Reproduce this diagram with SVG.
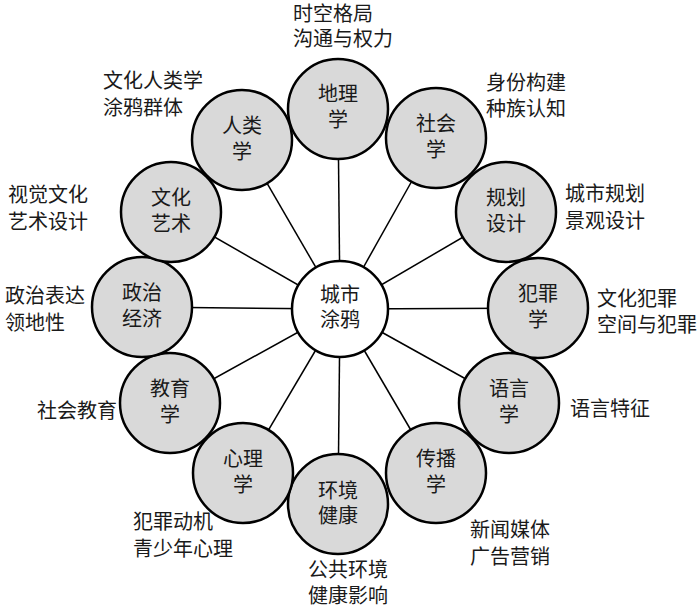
<svg xmlns="http://www.w3.org/2000/svg" width="700" height="610" viewBox="0 0 700 610">
<style>
text{font-family:"Noto Sans CJK SC","Noto Sans",sans-serif;font-size:20px;fill:#1a1a1a}
.n{text-anchor:middle}
circle.o{fill:#d9d9d9;stroke:#000;stroke-width:2.5}
circle.c{fill:#fff;stroke:#000;stroke-width:2.5}
#connectors line{stroke:#000;stroke-width:1.5}
</style>
<rect width="700" height="610" fill="#fff"/>
<g id="connectors">
<line x1="340" y1="309" x2="338" y2="109"/>
<line x1="340" y1="309" x2="436" y2="138"/>
<line x1="340" y1="309" x2="506" y2="212"/>
<line x1="340" y1="309" x2="538" y2="308"/>
<line x1="340" y1="309" x2="509" y2="403"/>
<line x1="340" y1="309" x2="436" y2="473"/>
<line x1="340" y1="309" x2="338" y2="504"/>
<line x1="340" y1="309" x2="243" y2="473"/>
<line x1="340" y1="309" x2="170" y2="403"/>
<line x1="340" y1="309" x2="142" y2="307"/>
<line x1="340" y1="309" x2="171" y2="212"/>
<line x1="340" y1="309" x2="242" y2="140"/>
</g>
<g id="center"><circle class="c" cx="340" cy="309" r="48"/><text class="n" x="340" y="302">城市</text><text class="n" x="340" y="327">涂鸦</text></g>
<g id="geo"><circle class="o" cx="338" cy="109" r="50"/><text class="n" x="338" y="101">地理</text><text class="n" x="338" y="127">学</text><text x="293" y="21">时空格局</text><text x="293" y="46">沟通与权力</text></g>
<g id="soc"><circle class="o" cx="436" cy="138" r="50"/><text class="n" x="436" y="131">社会</text><text class="n" x="436" y="157">学</text><text x="486" y="90">身份构建</text><text x="486" y="116">种族认知</text></g>
<g id="plan"><circle class="o" cx="506" cy="212" r="50"/><text class="n" x="506" y="205">规划</text><text class="n" x="506" y="231">设计</text><text x="565" y="201">城市规划</text><text x="565" y="228">景观设计</text></g>
<g id="crime"><circle class="o" cx="538" cy="308" r="50"/><text class="n" x="538" y="301">犯罪</text><text class="n" x="538" y="327">学</text><text x="597" y="306">文化犯罪</text><text x="597" y="332">空间与犯罪</text></g>
<g id="lang"><circle class="o" cx="509" cy="403" r="50"/><text class="n" x="509" y="396">语言</text><text class="n" x="509" y="422">学</text><text x="570" y="416">语言特征</text></g>
<g id="comm"><circle class="o" cx="436" cy="473" r="50"/><text class="n" x="436" y="466">传播</text><text class="n" x="436" y="492">学</text><text x="470" y="537">新闻媒体</text><text x="470" y="564">广告营销</text></g>
<g id="env"><circle class="o" cx="338" cy="504" r="50"/><text class="n" x="338" y="498">环境</text><text class="n" x="338" y="523">健康</text><text x="308" y="577">公共环境</text><text x="308" y="603">健康影响</text></g>
<g id="psy"><circle class="o" cx="243" cy="473" r="50"/><text class="n" x="243" y="466">心理</text><text class="n" x="243" y="492">学</text><text x="133" y="529">犯罪动机</text><text x="133" y="556">青少年心理</text></g>
<g id="edu"><circle class="o" cx="170" cy="403" r="50"/><text class="n" x="170" y="396">教育</text><text class="n" x="170" y="422">学</text><text x="37" y="418">社会教育</text></g>
<g id="pol"><circle class="o" cx="142" cy="307" r="50"/><text class="n" x="142" y="300">政治</text><text class="n" x="142" y="326">经济</text><text x="5" y="303">政治表达</text><text x="5" y="330">领地性</text></g>
<g id="art"><circle class="o" cx="171" cy="212" r="50"/><text class="n" x="171" y="205">文化</text><text class="n" x="171" y="231">艺术</text><text x="8" y="202">视觉文化</text><text x="8" y="229">艺术设计</text></g>
<g id="anth"><circle class="o" cx="242" cy="140" r="50"/><text class="n" x="242" y="133">人类</text><text class="n" x="242" y="159">学</text><text x="103" y="88">文化人类学</text><text x="103" y="115">涂鸦群体</text></g>
</svg>
